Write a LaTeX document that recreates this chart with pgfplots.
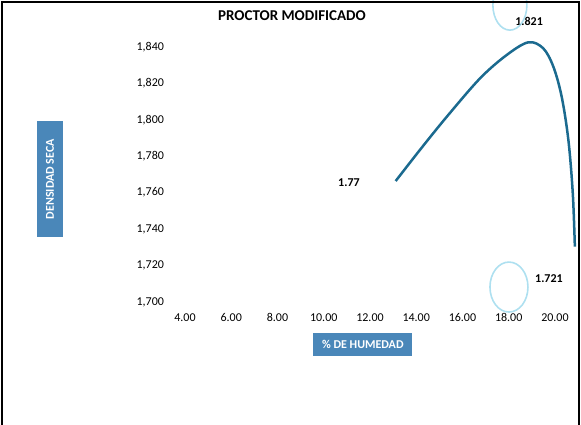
\documentclass[border=0pt]{standalone}
\usepackage{pgfplots}
\pgfplotsset{compat=1.18}
\usepackage{fontspec}
\setmainfont{Carlito}
\definecolor{curve}{HTML}{1B6A8F}
\definecolor{lblbox}{HTML}{4A87B9}
\definecolor{ring}{HTML}{9AD8EC}
\begin{document}
\begin{tikzpicture}[x=1pt,y=1pt]
\path[use as bounding box] (0,0) rectangle (581,425);
\begin{axis}[
  at={(166.5pt,113.9pt)}, anchor=south west,
  scale only axis, width=411.6pt, height=291.4pt,
  xmin=3.2, xmax=21, ymin=1.695, ymax=1.855,
  enlargelimits=false, clip=false,
  axis line style={draw=none}, major tick length=0pt,
  xtick={4,6,8,10,12,14,16,18,20},
  xticklabels={4.00,6.00,8.00,10.00,12.00,14.00,16.00,18.00,20.00},
  ytick={1.70,1.72,1.74,1.76,1.78,1.80,1.82,1.84},
  yticklabels={{1,700},{1,720},{1,740},{1,760},{1,780},{1,800},{1,820},{1,840}},
  /pgf/number format/assume math mode=true,
  ticklabel style={font=\fontsize{12}{14}\selectfont, text=black},
  xticklabel style={yshift=1pt},
  yticklabel style={xshift=1pt},
  title={PROCTOR MODIFICADO},
  title style={at={(axis description cs:0.305,0.995)}, anchor=center, font=\bfseries\fontsize{15}{17}\selectfont},
  xlabel={\% DE HUMEDAD},
  xlabel style={at={(axis description cs:0.477,-0.116)}, anchor=center, fill=lblbox, text=white,
    minimum width=99pt, minimum height=23pt, inner sep=0pt, font=\bfseries\fontsize{12}{14}\selectfont},
  ylabel={DENSIDAD SECA},
  ylabel style={at={(axis description cs:-0.283,0.453)}, anchor=center, fill=lblbox, text=white,
    minimum width=116pt, minimum height=26pt, inner sep=0pt, font=\bfseries\fontsize{12}{14}\selectfont},
]
\addplot[curve, line width=2.5pt, smooth, tension=0.55] coordinates {
  (13.11,1.7664) (14.16,1.7835) (15.32,1.8017) (16.76,1.8228) (17.91,1.8356)
  (18.85,1.8426) (19.49,1.8393) (19.93,1.8292) (20.29,1.8127) (20.58,1.7889)
  (20.77,1.7597) (20.86,1.7304)
};
\node[font=\bfseries\fontsize{12}{14}\selectfont] at (axis cs:11.09,1.7653) {1.77};
\node[font=\bfseries\fontsize{12}{14}\selectfont] at (axis cs:18.88,1.8543) {1.821};
\node[font=\bfseries\fontsize{12}{14}\selectfont] at (axis cs:19.74,1.7126) {1.721};
\draw[ring, line width=1.6pt, opacity=0.8] (axis cs:18.05,1.863) ellipse [x radius=17pt, y radius=25pt];
\draw[ring, line width=1.6pt, opacity=0.8] (axis cs:18.01,1.7082) ellipse [x radius=19pt, y radius=25pt];
\end{axis}
\draw[black, line width=1.6pt] (2,0) -- (2,423) -- (579,423) -- (579,0);
\end{tikzpicture}
\end{document}
